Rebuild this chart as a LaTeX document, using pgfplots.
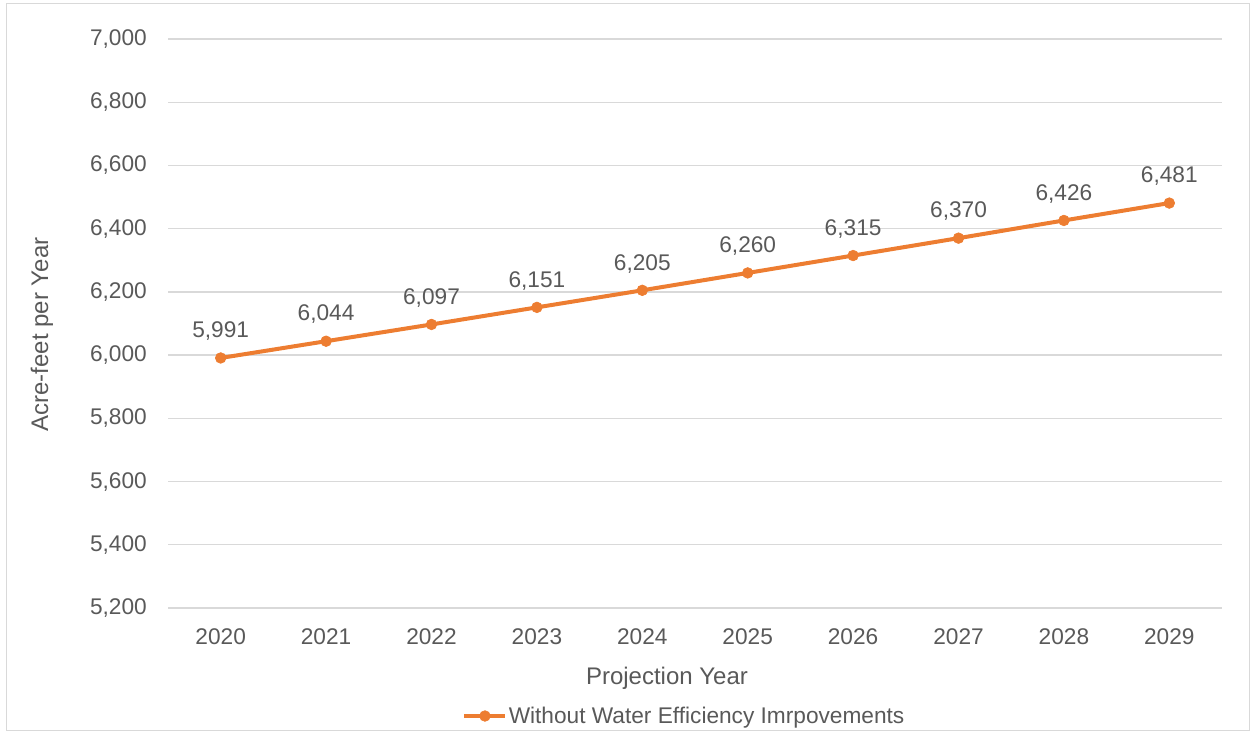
\documentclass[border=0pt]{standalone}
\usepackage{fontspec}
\setmainfont{Liberation Sans}
\usepackage{pgfplots}
\pgfplotsset{compat=1.18}
\definecolor{lineorange}{HTML}{ED7D31}
\definecolor{textgray}{HTML}{595959}
\definecolor{gridgray}{HTML}{D9D9D9}
\newcommand{\tickfont}{\fontsize{17pt}{19pt}\selectfont}
\newcommand{\titlefont}{\fontsize{18pt}{21pt}\selectfont}
\begin{document}
\begin{tikzpicture}
\useasboundingbox (0,0) rectangle (939pt,549.75pt);
\draw[gridgray, line width=0.75pt] (4.5pt,2.25pt) rectangle (936.75pt,546.75pt);
\begin{axis}[
  at={(126pt,93.75pt)}, anchor=south west,
  scale only axis, width=790.5pt, height=426.75pt,
  xmin=-0.5, xmax=9.5, ymin=5200, ymax=7000,
  xtick={0,1,2,3,4,5,6,7,8,9},
  xticklabels={2020,2021,2022,2023,2024,2025,2026,2027,2028,2029},
  ytick={5200,5400,5600,5800,6000,6200,6400,6600,6800,7000},
  ymajorgrids, grid style={gridgray, line width=1pt},
  axis line style={draw=none},
  major tick length=0pt,
  tick label style={font=\tickfont, text=textgray},
  yticklabel style={anchor=east, inner sep=0pt, xshift=-15.75pt},
  xticklabel style={anchor=north, inner sep=0pt, yshift=-15pt},
  /pgf/number format/.cd, 1000 sep={,}, assume math mode=true, /pgfplots/.cd,
  xlabel={Projection Year},
  xlabel style={at={(axis description cs:0.4734,-0.1037)}, anchor=north, inner sep=0pt, font=\titlefont, text=textgray},
  ylabel={Acre-feet per Year},
  ylabel style={at={(axis description cs:-0.1195,0.4807)}, anchor=center, inner sep=0pt, font=\titlefont, text=textgray},
  legend style={draw=none, fill=none, at={(axis description cs:0.4896,-0.1898)}, anchor=center,
    font=\tickfont, text=textgray, inner sep=0pt, nodes={inner sep=1pt}},
  legend cell align=left,
  legend image code/.code={\draw[#1, mark repeat=2, mark phase=2] plot coordinates {(0pt,0pt) (15.4pt,0pt) (30.75pt,0pt)};},
  nodes near coords,
  every node near coord/.append style={font=\tickfont, text=textgray, inner sep=0pt, anchor=south, yshift=12.75pt},
]
\addplot[lineorange, line width=3pt, mark=*, mark size=4pt, mark options={fill=lineorange, draw=lineorange, line width=0.5pt}]
  coordinates {(0,5991) (1,6044) (2,6097) (3,6151) (4,6205) (5,6260) (6,6315) (7,6370) (8,6426) (9,6481)};
\addlegendentry{Without Water Efficiency Imrpovements}
\end{axis}
\end{tikzpicture}
\end{document}
